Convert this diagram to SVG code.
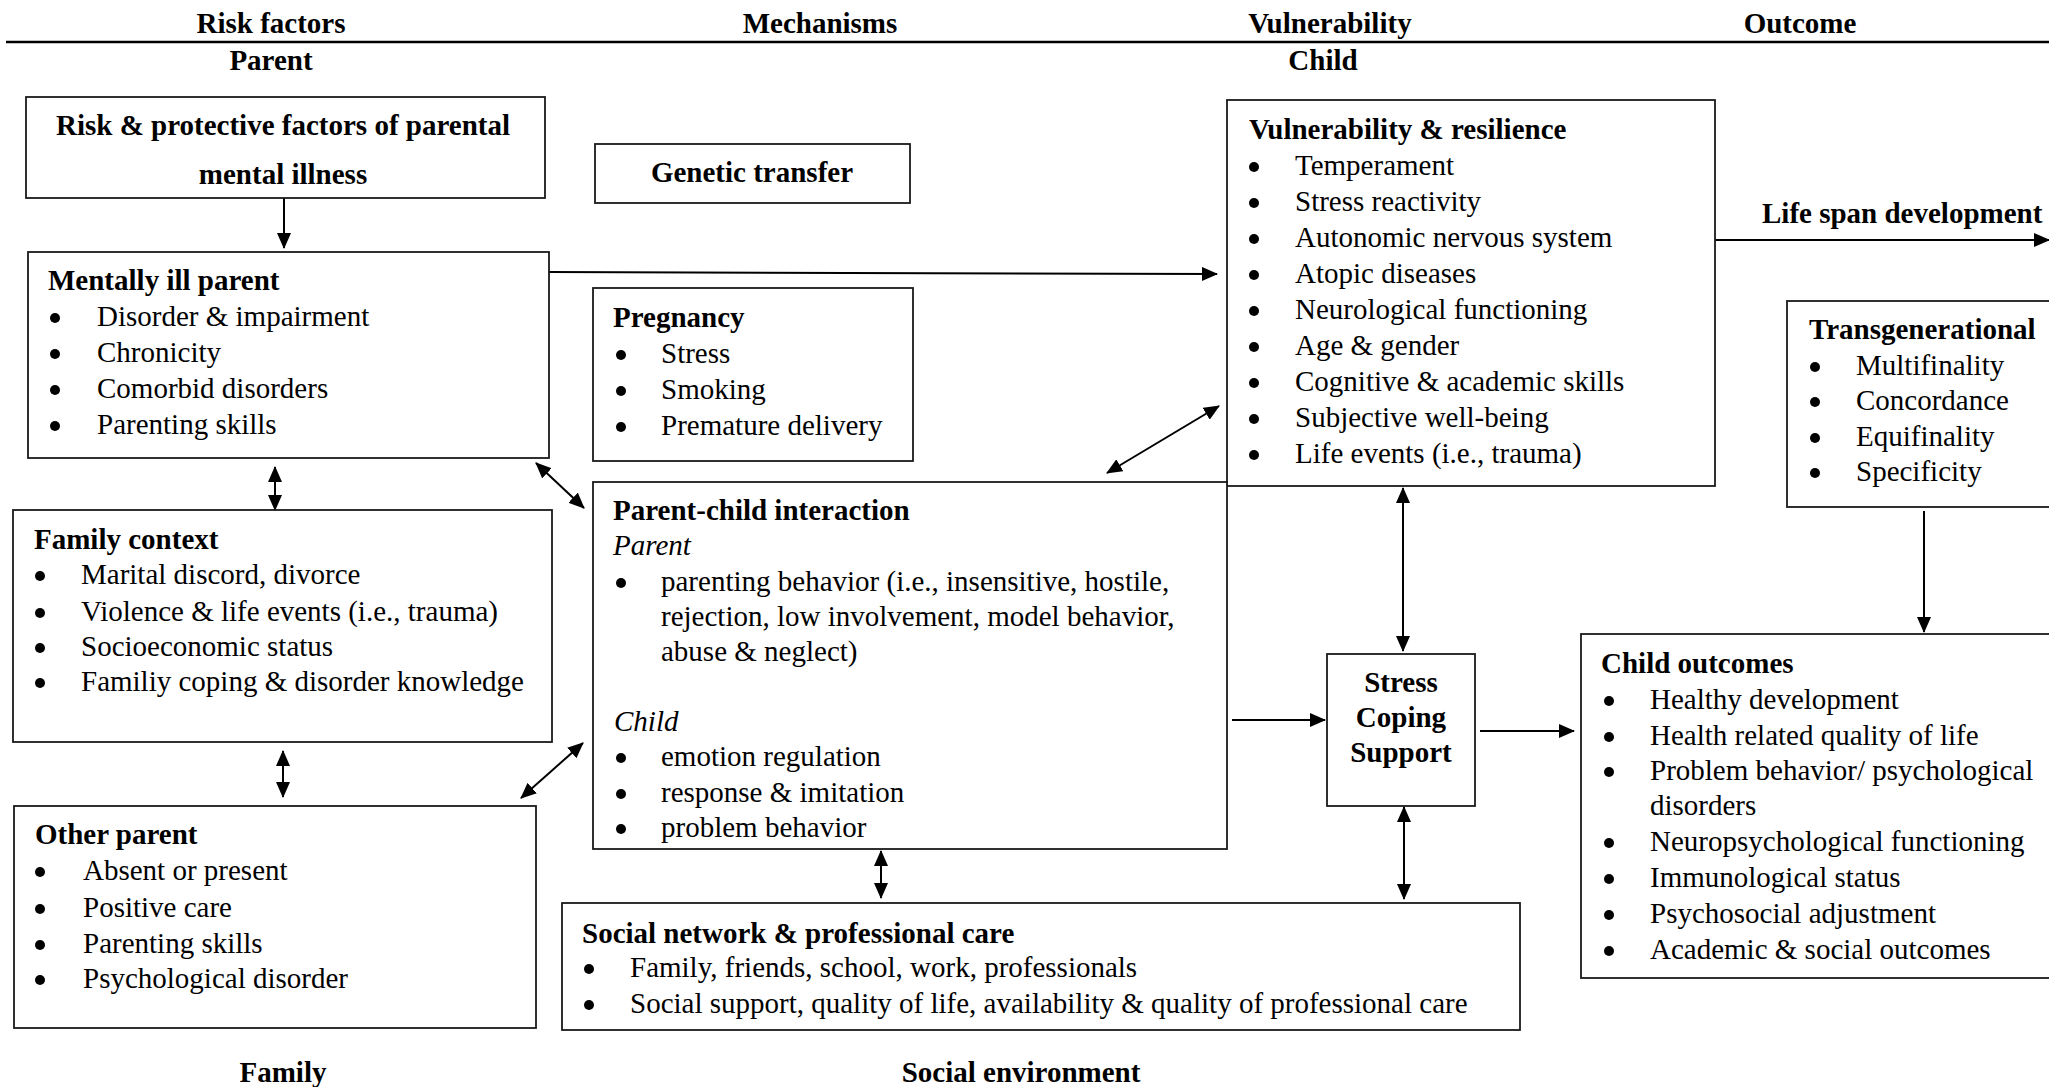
<svg xmlns="http://www.w3.org/2000/svg" width="2049" height="1087" viewBox="0 0 2049 1087">
<defs>
<style>
text{font-family:"Liberation Serif","Times New Roman",serif;font-size:29px;fill:#000}
.b{font-weight:bold}
.i{font-style:italic}
.m{text-anchor:middle}
.dot{fill:#000}
.box{fill:#fff;stroke:#1a1a1a;stroke-width:1.8}
.c{fill:none;stroke:#000;stroke-width:2}
.hl{stroke:#000;stroke-width:2.5}
</style>
<marker id="ah" markerWidth="16" markerHeight="14" refX="15" refY="7" orient="auto-start-reverse" markerUnits="userSpaceOnUse">
<path d="M0,0 L16,7 L0,14 z" fill="#000"/>
</marker>
</defs>
<rect width="2049" height="1087" fill="#fff"/>

<g id="headers">
<line class="hl" x1="6" y1="42" x2="2049" y2="42"/>
<text class="b m" x="271" y="33">Risk factors</text>
<text class="b m" x="820" y="33">Mechanisms</text>
<text class="b m" x="1330" y="33">Vulnerability</text>
<text class="b m" x="1800" y="33">Outcome</text>
<text class="b m" x="271" y="70">Parent</text>
<text class="b m" x="1323" y="70">Child</text>
<text class="b m" x="283" y="1082">Family</text>
<text class="b m" x="1021" y="1082">Social environment</text>
<text class="b" x="1762" y="223">Life span development</text>
</g>

<g id="connectors">
<line class="c" x1="284" y1="198" x2="284" y2="248" marker-end="url(#ah)"/>
<line class="c" x1="549" y1="272" x2="1217" y2="274" marker-end="url(#ah)"/>
<line class="c" x1="1715" y1="240" x2="2049" y2="240" marker-end="url(#ah)"/>
<line class="c" x1="275" y1="467" x2="275" y2="510" marker-start="url(#ah)" marker-end="url(#ah)"/>
<line class="c" x1="283" y1="751" x2="283" y2="797" marker-start="url(#ah)" marker-end="url(#ah)"/>
<line class="c" x1="536" y1="463" x2="584" y2="508" marker-start="url(#ah)" marker-end="url(#ah)"/>
<line class="c" x1="521" y1="798" x2="583" y2="743" marker-start="url(#ah)" marker-end="url(#ah)"/>
<line class="c" x1="1107" y1="473" x2="1219" y2="406" marker-start="url(#ah)" marker-end="url(#ah)"/>
<line class="c" x1="1232" y1="720" x2="1325" y2="720" marker-end="url(#ah)"/>
<line class="c" x1="1480" y1="731" x2="1574" y2="731" marker-end="url(#ah)"/>
<line class="c" x1="1403" y1="488" x2="1403" y2="651" marker-start="url(#ah)" marker-end="url(#ah)"/>
<line class="c" x1="1404" y1="807" x2="1404" y2="899" marker-start="url(#ah)" marker-end="url(#ah)"/>
<line class="c" x1="881" y1="851" x2="881" y2="898" marker-start="url(#ah)" marker-end="url(#ah)"/>
<line class="c" x1="1924" y1="511" x2="1924" y2="632" marker-end="url(#ah)"/>
</g>

<g id="risk-protective">
<rect class="box" x="26" y="97" width="519" height="101"/>
<text class="b m" x="283" y="135">Risk &amp; protective factors of parental</text>
<text class="b m" x="283" y="184">mental illness</text>
</g>

<g id="genetic-transfer">
<rect class="box" x="595" y="144" width="315" height="59"/>
<text class="b m" x="752" y="182">Genetic transfer</text>
</g>

<g id="mentally-ill-parent">
<rect class="box" x="28" y="252" width="521" height="206"/>
<text class="b" x="48" y="290">Mentally ill parent</text>
<circle class="dot" cx="55" cy="318" r="5"/><text x="97" y="326">Disorder &amp; impairment</text>
<circle class="dot" cx="55" cy="354" r="5"/><text x="97" y="362">Chronicity</text>
<circle class="dot" cx="55" cy="390" r="5"/><text x="97" y="398">Comorbid disorders</text>
<circle class="dot" cx="55" cy="426" r="5"/><text x="97" y="434">Parenting skills</text>
</g>

<g id="pregnancy">
<rect class="box" x="593" y="288" width="320" height="173"/>
<text class="b" x="613" y="327">Pregnancy</text>
<circle class="dot" cx="621" cy="355" r="5"/><text x="661" y="363">Stress</text>
<circle class="dot" cx="621" cy="391" r="5"/><text x="661" y="399">Smoking</text>
<circle class="dot" cx="621" cy="427" r="5"/><text x="661" y="435">Premature delivery</text>
</g>

<g id="vulnerability-resilience">
<rect class="box" x="1227" y="100" width="488" height="386"/>
<text class="b" x="1249" y="139">Vulnerability &amp; resilience</text>
<circle class="dot" cx="1254" cy="167" r="5"/><text x="1295" y="175">Temperament</text>
<circle class="dot" cx="1254" cy="203" r="5"/><text x="1295" y="211">Stress reactivity</text>
<circle class="dot" cx="1254" cy="239" r="5"/><text x="1295" y="247">Autonomic nervous system</text>
<circle class="dot" cx="1254" cy="275" r="5"/><text x="1295" y="283">Atopic diseases</text>
<circle class="dot" cx="1254" cy="311" r="5"/><text x="1295" y="319">Neurological functioning</text>
<circle class="dot" cx="1254" cy="347" r="5"/><text x="1295" y="355">Age &amp; gender</text>
<circle class="dot" cx="1254" cy="383" r="5"/><text x="1295" y="391">Cognitive &amp; academic skills</text>
<circle class="dot" cx="1254" cy="419" r="5"/><text x="1295" y="427">Subjective well-being</text>
<circle class="dot" cx="1254" cy="455" r="5"/><text x="1295" y="463">Life events (i.e., trauma)</text>
</g>

<g id="parent-child-interaction">
<rect class="box" x="593" y="482" width="634" height="367"/>
<text class="b" x="613" y="520">Parent-child interaction</text>
<text class="i" x="613" y="555">Parent</text>
<circle class="dot" cx="621" cy="583" r="5"/><text x="661" y="591">parenting behavior (i.e., insensitive, hostile,</text>
<text x="661" y="626">rejection, low involvement, model behavior,</text>
<text x="661" y="661">abuse &amp; neglect)</text>
<text class="i" x="614" y="731">Child</text>
<circle class="dot" cx="621" cy="758" r="5"/><text x="661" y="766">emotion regulation</text>
<circle class="dot" cx="621" cy="794" r="5"/><text x="661" y="802">response &amp; imitation</text>
<circle class="dot" cx="621" cy="829" r="5"/><text x="661" y="837">problem behavior</text>
</g>

<g id="family-context">
<rect class="box" x="13" y="510" width="539" height="232"/>
<text class="b" x="34" y="549">Family context</text>
<circle class="dot" cx="40" cy="576" r="5"/><text x="81" y="584">Marital discord, divorce</text>
<circle class="dot" cx="40" cy="613" r="5"/><text x="81" y="621">Violence &amp; life events (i.e., trauma)</text>
<circle class="dot" cx="40" cy="648" r="5"/><text x="81" y="656">Socioeconomic status</text>
<circle class="dot" cx="40" cy="683" r="5"/><text x="81" y="691">Familiy coping &amp; disorder knowledge</text>
</g>

<g id="other-parent">
<rect class="box" x="14" y="806" width="522" height="222"/>
<text class="b" x="35" y="844">Other parent</text>
<circle class="dot" cx="40" cy="872" r="5"/><text x="83" y="880">Absent or present</text>
<circle class="dot" cx="40" cy="909" r="5"/><text x="83" y="917">Positive care</text>
<circle class="dot" cx="40" cy="945" r="5"/><text x="83" y="953">Parenting skills</text>
<circle class="dot" cx="40" cy="980" r="5"/><text x="83" y="988">Psychological disorder</text>
</g>

<g id="stress-coping-support">
<rect class="box" x="1327" y="654" width="148" height="152"/>
<text class="b m" x="1401" y="692">Stress</text>
<text class="b m" x="1401" y="727">Coping</text>
<text class="b m" x="1401" y="762">Support</text>
</g>

<g id="social-network">
<rect class="box" x="562" y="903" width="958" height="127"/>
<text class="b" x="582" y="943">Social network &amp; professional care</text>
<circle class="dot" cx="589" cy="969" r="5"/><text x="630" y="977">Family, friends, school, work, professionals</text>
<circle class="dot" cx="589" cy="1005" r="5"/><text x="630" y="1013">Social support, quality of life, availability &amp; quality of professional care</text>
</g>

<g id="transgenerational">
<rect class="box" x="1787" y="301" width="300" height="206"/>
<text class="b" x="1809" y="339">Transgenerational</text>
<circle class="dot" cx="1815" cy="367" r="5"/><text x="1856" y="375">Multifinality</text>
<circle class="dot" cx="1815" cy="402" r="5"/><text x="1856" y="410">Concordance</text>
<circle class="dot" cx="1815" cy="438" r="5"/><text x="1856" y="446">Equifinality</text>
<circle class="dot" cx="1815" cy="473" r="5"/><text x="1856" y="481">Specificity</text>
</g>

<g id="child-outcomes">
<rect class="box" x="1581" y="634" width="500" height="344"/>
<text class="b" x="1601" y="673">Child outcomes</text>
<circle class="dot" cx="1609" cy="701" r="5"/><text x="1650" y="709">Healthy development</text>
<circle class="dot" cx="1609" cy="737" r="5"/><text x="1650" y="745">Health related quality of life</text>
<circle class="dot" cx="1609" cy="772" r="5"/><text x="1650" y="780">Problem behavior/ psychological</text>
<text x="1650" y="815">disorders</text>
<circle class="dot" cx="1609" cy="843" r="5"/><text x="1650" y="851">Neuropsychological functioning</text>
<circle class="dot" cx="1609" cy="879" r="5"/><text x="1650" y="887">Immunological status</text>
<circle class="dot" cx="1609" cy="915" r="5"/><text x="1650" y="923">Psychosocial adjustment</text>
<circle class="dot" cx="1609" cy="951" r="5"/><text x="1650" y="959">Academic &amp; social outcomes</text>
</g>
</svg>
